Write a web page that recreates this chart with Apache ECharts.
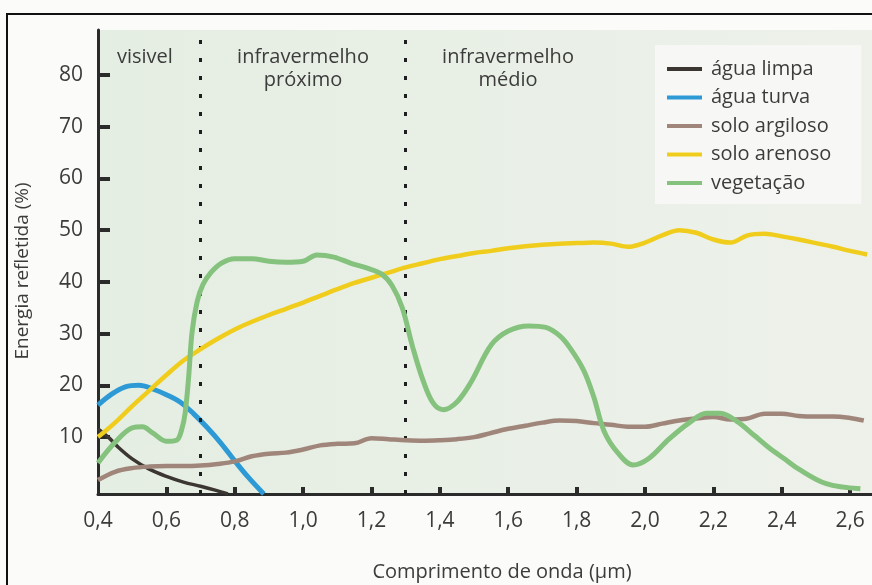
<!DOCTYPE html>
<html>
<head>
<meta charset="utf-8">
<script src="https://cdn.jsdelivr.net/npm/echarts@6/dist/echarts.min.js"></script>
<style>
html,body{margin:0;padding:0;background:#fbfbfa;}
#chart{width:872px;height:585px;}
</style>
</head>
<body>
<div id="chart"></div>
<script>
// ---- data ----
const seriesNames = ['água limpa', 'água turva', 'solo argiloso', 'solo arenoso', 'vegetação'];
const xTicks = [0.4, 0.6, 0.8, 1.0, 1.2, 1.4, 1.6, 1.8, 2.0, 2.2, 2.4, 2.6];
const yTicks = [10, 20, 30, 40, 50, 60, 70, 80];
const regionBounds = [0.7, 1.3];

const limpaX = [0.40, 0.43, 0.46, 0.50, 0.55, 0.60, 0.65, 0.70, 0.74, 0.78];
const limpaY = [11.6, 10.0, 8.0, 5.8, 3.8, 2.4, 1.3, 0.5, -0.2, -1.0];

const turvaX = [0.40, 0.44, 0.48, 0.52, 0.56, 0.60, 0.64, 0.68, 0.72, 0.76, 0.80, 0.84, 0.885];
const turvaY = [16.2, 18.3, 19.7, 20.0, 19.3, 18.2, 16.8, 14.5, 11.8, 8.8, 5.4, 2.2, -1.0];

const argilosoX = [0.40, 0.45, 0.50, 0.55, 0.60, 0.65, 0.70, 0.75, 0.80, 0.85, 0.90, 0.95, 1.00, 1.05, 1.10, 1.15, 1.20, 1.25, 1.30, 1.35, 1.40, 1.45, 1.50, 1.55, 1.60, 1.65, 1.70, 1.75, 1.80, 1.85, 1.90, 1.95, 2.00, 2.05, 2.10, 2.15, 2.20, 2.25, 2.30, 2.35, 2.40, 2.45, 2.50, 2.55, 2.60, 2.64];
const argilosoY = [1.7, 3.3, 4.0, 4.3, 4.4, 4.4, 4.5, 4.8, 5.3, 6.3, 6.8, 7.0, 7.6, 8.4, 8.7, 8.8, 9.8, 9.6, 9.4, 9.3, 9.4, 9.6, 10.0, 10.8, 11.6, 12.2, 12.8, 13.2, 13.1, 12.7, 12.4, 12.0, 12.0, 12.6, 13.2, 13.6, 13.9, 13.4, 13.6, 14.5, 14.5, 14.1, 14.0, 14.0, 13.7, 13.2];

const arenosoX = [0.40, 0.45, 0.50, 0.55, 0.60, 0.65, 0.70, 0.75, 0.80, 0.85, 0.90, 0.95, 1.00, 1.05, 1.10, 1.15, 1.20, 1.25, 1.30, 1.35, 1.40, 1.45, 1.50, 1.55, 1.60, 1.65, 1.70, 1.75, 1.80, 1.85, 1.90, 1.95, 2.00, 2.05, 2.10, 2.15, 2.20, 2.25, 2.30, 2.35, 2.40, 2.45, 2.50, 2.55, 2.60, 2.65];
const arenosoY = [10.0, 12.8, 16.0, 19.0, 22.0, 24.8, 27.0, 29.0, 30.8, 32.3, 33.6, 34.8, 36.0, 37.3, 38.6, 39.8, 40.8, 41.8, 42.8, 43.6, 44.4, 45.0, 45.6, 46.0, 46.5, 46.9, 47.2, 47.4, 47.5, 47.6, 47.4, 46.8, 47.6, 49.0, 50.0, 49.5, 48.2, 47.6, 49.0, 49.3, 48.8, 48.2, 47.5, 46.8, 46.0, 45.3];

const vegetacaoX = [0.40, 0.45, 0.50, 0.53, 0.56, 0.60, 0.63, 0.645, 0.655, 0.665, 0.675, 0.69, 0.707, 0.73, 0.76, 0.80, 0.85, 0.90, 0.95, 1.00, 1.04, 1.09, 1.14, 1.19, 1.23, 1.26, 1.29, 1.32, 1.35, 1.38, 1.41, 1.45, 1.49, 1.55, 1.60, 1.66, 1.71, 1.75, 1.78, 1.82, 1.85, 1.88, 1.92, 1.965, 2.01, 2.07, 2.13, 2.18, 2.22, 2.27, 2.32, 2.36, 2.41, 2.45, 2.53, 2.63];
const vegetacaoY = [5.0, 9.0, 11.8, 12.0, 10.8, 9.2, 9.4, 11.5, 14.7, 21.5, 30.2, 36.2, 39.5, 41.8, 43.6, 44.5, 44.5, 44.0, 43.8, 44.0, 45.2, 44.8, 43.6, 42.6, 41.5, 39.3, 35.0, 27.5, 21.1, 16.6, 15.3, 16.8, 20.5, 27.8, 30.5, 31.5, 31.2, 29.6, 27.3, 23.0, 17.8, 11.2, 7.0, 4.6, 5.8, 9.6, 12.8, 14.6, 14.6, 13.0, 10.3, 8.1, 5.7, 3.8, 1.0, 0.0];

// ---- build ----
function pairs(xs, ys) { return xs.map((x, i) => [x, ys[i]]); }
const colors = ['#3b3632', '#2d9ad6', '#a0867a', '#f0cd1c', '#84c27e'];
const widths = [3.5, 5, 4.5, 4.5, 5];
const datasets = [pairs(limpaX, limpaY), pairs(turvaX, turvaY), pairs(argilosoX, argilosoY), pairs(arenosoX, arenosoY), pairs(vegetacaoX, vegetacaoY)];
const FONT = '"Open Sans", "Noto Sans", sans-serif';
const TXT = '#3c3c3c';

const series = datasets.map((d, i) => ({
  name: seriesNames[i],
  type: 'line',
  data: d,
  symbol: 'none',
  smooth: 0.35,
  color: colors[i],
  lineStyle: { width: widths[i], color: colors[i] },
  z: 3 + i
}));
series[0].markLine = {
  silent: true,
  symbol: ['none', 'none'],
  label: { show: false },
  lineStyle: { type: [4, 14], width: 3, color: '#1e1e1e' },
  data: regionBounds.map(v => ({ xAxis: v }))
};

const chart = echarts.init(document.getElementById('chart'), null, { renderer: 'canvas' });
chart.setOption({
  backgroundColor: '#fbfbfa',
  animation: false,
  textStyle: { fontFamily: FONT },
  grid: {
    left: 98, right: 0, top: 30, bottom: 91, show: true, borderWidth: 0,
    containLabel: false, outerBoundsMode: 'none',
    backgroundColor: { type: 'linear', x: 0, y: 0, x2: 1, y2: 0, colorStops: [{ offset: 0, color: '#e5eee2' }, { offset: 1, color: '#edf1ea' }] }
  },
  legend: {
    orient: 'vertical', left: 655, top: 45,
    padding: [13, 30, 10, 12],
    backgroundColor: '#f7f8f6',
    icon: 'rect',
    itemWidth: 35, itemHeight: 4, itemGap: 6.5,
    textStyle: { fontSize: 20, color: TXT, fontFamily: FONT, lineHeight: 22, padding: [0, 0, 0, 4] },
    data: seriesNames
  },
  xAxis: {
    type: 'value', min: 0.4, max: 2.664,
    name: 'Comprimento de onda (µm)', nameLocation: 'middle', nameGap: 68,
    nameTextStyle: { fontSize: 20, color: TXT, fontFamily: FONT, padding: [0, 0, 0, 34] },
    axisLine: { show: true, onZero: false, lineStyle: { color: '#2b2b2b', width: 3 } },
    axisTick: { show: true, inside: true, length: 7, lineStyle: { width: 4, color: '#2b2b2b' }, customValues: xTicks.slice(1) },
    axisLabel: { customValues: xTicks, margin: 17, fontSize: 21, color: TXT, fontFamily: FONT, formatter: v => v.toFixed(1).replace('.', ',') },
    splitLine: { show: false }
  },
  yAxis: {
    type: 'value', min: -1, max: 88.7,
    name: 'Energia refletida (%)', nameLocation: 'middle', nameGap: 66,
    nameTextStyle: { fontSize: 19, color: TXT, fontFamily: FONT, padding: [0, 18, 0, 0] },
    axisLine: { show: true, onZero: false, lineStyle: { color: '#2b2b2b', width: 3 } },
    axisTick: { show: true, inside: true, length: 12, lineStyle: { width: 4, color: '#2b2b2b' }, customValues: yTicks },
    axisLabel: { customValues: yTicks, margin: 15, fontSize: 21, color: TXT, fontFamily: FONT },
    splitLine: { show: false }
  },
  graphic: [
    { type: 'rect', shape: { x: 7, y: 14, width: 1000, height: 1000 }, style: { fill: 'none', stroke: '#111', lineWidth: 2 }, z: 100, silent: true },
    { type: 'text', style: { text: 'visivel', x: 117, y: 46, font: '20px ' + FONT, fill: TXT, lineHeight: 23, verticalAlign: 'top' }, z: 50 },
    { type: 'text', style: { text: 'infravermelho\npróximo', x: 303, y: 46, font: '20px ' + FONT, fill: TXT, lineHeight: 23, align: 'center', verticalAlign: 'top' }, z: 50 },
    { type: 'text', style: { text: 'infravermelho\nmédio', x: 508, y: 46, font: '20px ' + FONT, fill: TXT, lineHeight: 23, align: 'center', verticalAlign: 'top' }, z: 50 }
  ],
  series: series
});
</script>
</body>
</html>
